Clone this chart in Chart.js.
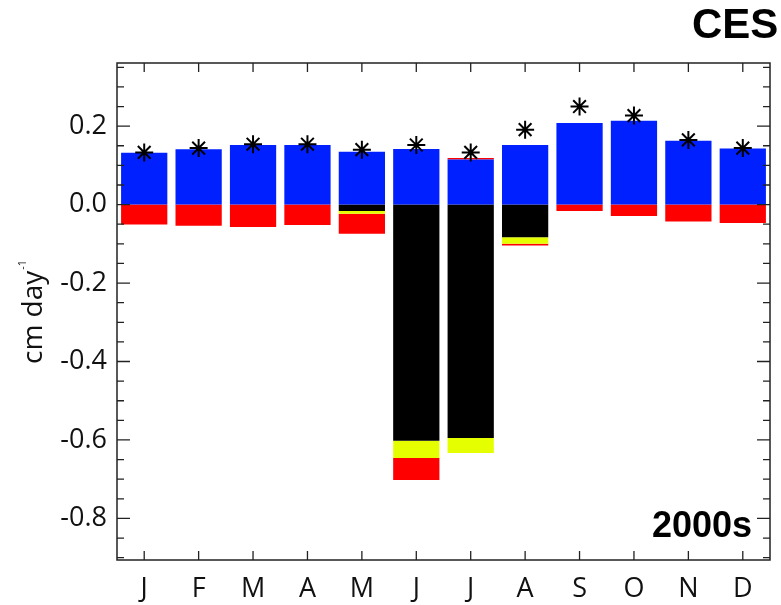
<!DOCTYPE html>
<html>
<head>
<meta charset="utf-8">
<script src="https://cdn.jsdelivr.net/npm/chart.js@4.4.1/dist/chart.umd.min.js"></script>
<style>
  body { margin: 0; background: #fff; }
  #wrap { width: 781px; height: 605px; position: relative; }
</style>
</head>
<body>
<div id="wrap"><canvas id="chart"></canvas></div>
<script>
const months = ['J', 'F', 'M', 'A', 'M', 'J', 'J', 'A', 'S', 'O', 'N', 'D'];

// stacked components, cm/day
const blueVals   = [0.132, 0.141, 0.152, 0.152, 0.135, 0.142, 0.115, 0.152, 0.208, 0.214, 0.163, 0.143];
const blackVals  = [null, null, null, null, -0.016, -0.602, -0.595, -0.083, null, null, null, null];
const yellowVals = [null, null, null, null, -0.007, -0.044, -0.038, -0.017, null, null, null, null];
const redVals    = [-0.051, -0.054, -0.057, -0.052, -0.051, -0.056, 0.004, -0.004, -0.016, -0.029, -0.043, -0.047];
// asterisks (net total)
const starVals   = [0.133, 0.144, 0.154, 0.154, 0.140, 0.152, 0.133, 0.191, 0.250, 0.227, 0.165, 0.144];

const yTickValues = [0.2, 0.0, -0.2, -0.4, -0.6, -0.8];
const yTickLabels = ['0.2', '0.0', '-0.2', '-0.4', '-0.6', '-0.8'];

Chart.defaults.font.family = "'Open Sans', sans-serif";
Chart.defaults.color = '#111';

// frame with inward ticks + extra labels
const frameTicks = {
  id: 'frameTicks',
  afterDraw(chart) {
    const { ctx, chartArea: a, scales: { x, y } } = chart;
    ctx.save();
    ctx.strokeStyle = '#222';
    ctx.lineWidth = 1.5;
    ctx.strokeRect(a.left, a.top, a.right - a.left, a.bottom - a.top);

    ctx.lineWidth = 1.3;
    ctx.beginPath();
    for (let i = 0; i < months.length; i++) {
      const px = x.getPixelForValue(i);
      ctx.moveTo(px, a.top);
      ctx.lineTo(px, a.top + 9);
      ctx.moveTo(px, a.bottom);
      ctx.lineTo(px, a.bottom - 9);
    }
    for (let k = -18; k <= 7; k++) {
      const py = y.getPixelForValue(k * 0.05);
      const len = k % 4 === 0 ? 13 : 7;
      ctx.moveTo(a.left, py);
      ctx.lineTo(a.left + len, py);
      ctx.moveTo(a.right, py);
      ctx.lineTo(a.right - len, py);
    }
    ctx.stroke();

    // y axis title
    ctx.fillStyle = '#111';
    ctx.save();
    ctx.translate(42, 364);
    ctx.rotate(-Math.PI / 2);
    ctx.font = "28px 'Open Sans'";
    ctx.textAlign = 'left';
    ctx.textBaseline = 'alphabetic';
    ctx.fillText('cm day', 0, 0);
    const w = ctx.measureText('cm day').width;
    ctx.font = "11px 'Open Sans'";
    ctx.fillText('-1', w + 1, -16);
    ctx.restore();

    // panel labels
    ctx.font = "bold 36px 'Liberation Sans', Arial, sans-serif";
    ctx.textAlign = 'right';
    ctx.fillStyle = '#000';
    ctx.fillText('2000s', 752, 537);
    ctx.textAlign = 'left';
    ctx.font = "bold 42px 'Liberation Sans', Arial, sans-serif";
    ctx.fillText('CES', 692, 38);
    ctx.restore();
  }
};

const barCommon = {
  type: 'bar',
  stack: 'main',
  order: 1,
  borderWidth: 0,
  barPercentage: 0.85,
  categoryPercentage: 1.0,
};

new Chart(document.getElementById('chart'), {
  data: {
    labels: months,
    datasets: [
      { ...barCommon, label: 'blue', data: blueVals, backgroundColor: '#0020ff' },
      { ...barCommon, label: 'black', data: blackVals, backgroundColor: '#000000' },
      { ...barCommon, label: 'yellow', data: yellowVals, backgroundColor: '#e6ff00' },
      { ...barCommon, label: 'red', data: redVals, backgroundColor: '#ff0000' },
      {
        type: 'line',
        label: 'total',
        stack: 'stars',
        order: 0,
        data: starVals,
        showLine: false,
        pointStyle: 'star',
        pointRadius: 9,
        pointBorderWidth: 2,
        pointBorderColor: '#000',
        pointBackgroundColor: '#000',
      }
    ]
  },
  options: {
    responsive: true,
    maintainAspectRatio: false,
    animation: false,
    layout: {
      padding: { top: 63, right: 7, bottom: 0, left: 0 }
    },
    scales: {
      x: {
        stacked: true,
        grid: { display: false, drawTicks: false },
        border: { display: false },
        ticks: {
          font: { size: 27 },
          padding: 13,
          maxRotation: 0,
          autoSkip: false
        },
        afterFit(scale) { scale.height = 45; }
      },
      y: {
        stacked: true,
        min: -0.906,
        max: 0.361,
        grid: { display: false, drawTicks: false },
        border: { display: false },
        afterBuildTicks(scale) {
          scale.ticks = yTickValues.map(v => ({ value: v }));
        },
        ticks: {
          font: { size: 27 },
          padding: 10,
          callback: function(value, index) {
            return yTickLabels[index];
          }
        },
        afterFit(scale) { scale.width = 117; }
      }
    },
    plugins: {
      legend: { display: false },
      tooltip: { enabled: false }
    }
  },
  plugins: [frameTicks]
});
</script>
</body>
</html>
